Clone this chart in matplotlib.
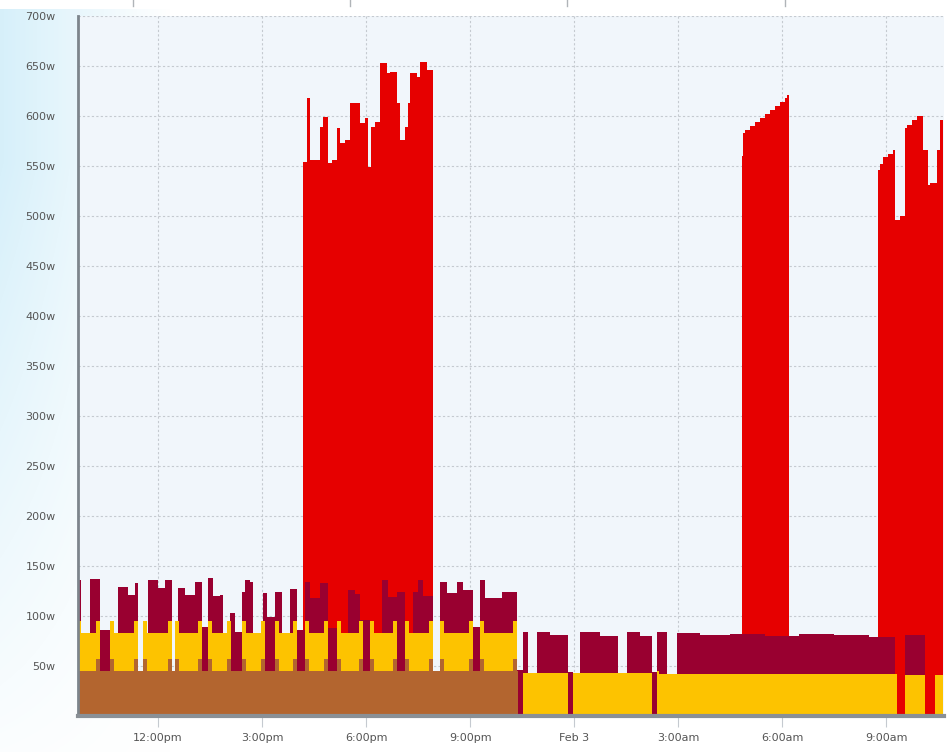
import numpy as np
import matplotlib.pyplot as plt
from matplotlib.lines import Line2D

# heures depuis minuit le 2 fev. (24 = minuit du 3 fev.)
# chaque serie = niveau du haut de la couche empilee, en escalier
brown_hours = [9.69, 10.21, 10.33, 10.62, 10.74, 11.30, 11.42, 11.57, 11.69, 12.28, 12.40,
               12.49, 12.61, 13.15, 13.27, 13.44, 13.56, 13.99, 14.11, 14.42, 14.54, 14.97,
               15.09, 15.37, 15.49, 15.89, 16.01, 16.24, 16.36, 16.78, 16.90, 17.16, 17.28,
               17.79, 17.91, 18.11, 18.23, 18.77, 18.89, 19.12, 19.24, 19.81, 19.93, 20.13,
               20.25, 20.97, 21.09, 21.29, 21.41, 22.23, 22.35, 22.38]
brown_top = [45, 57, 45, 57, 45, 57, 45, 57, 45, 57, 45,
             57, 45, 57, 45, 57, 45, 57, 45, 57, 45, 57,
             45, 57, 45, 57, 45, 57, 45, 57, 45, 57, 45,
             57, 45, 57, 45, 57, 45, 57, 45, 57, 45, 57,
             45, 57, 45, 57, 45, 57, 45, 0]

gold_hours = [9.69, 9.78, 10.21, 10.33, 10.62, 10.74, 11.30, 11.42, 11.57, 11.69, 12.28, 12.40,
              12.49, 12.61, 13.15, 13.27, 13.44, 13.56, 13.99, 14.11, 14.42, 14.54, 14.97,
              15.09, 15.37, 15.49, 15.89, 16.01, 16.24, 16.36, 16.78, 16.90, 17.16, 17.28,
              17.79, 17.91, 18.11, 18.23, 18.77, 18.89, 19.12, 19.24, 19.81, 19.93, 20.13,
              20.25, 20.97, 21.09, 21.29, 21.41, 22.23, 22.35, 22.53, 23.83, 23.97, 26.25,
              26.39, 26.45, 33.31, 33.55, 34.12, 34.41, 34.64]
gold_top = [95, 83, 95, 0, 95, 83, 95, 0, 95, 83, 95, 0,
            95, 83, 95, 0, 95, 83, 95, 0, 95, 83, 95,
            0, 95, 83, 95, 0, 95, 83, 95, 0, 95, 83,
            95, 0, 95, 83, 95, 0, 95, 83, 95, 0, 95,
            83, 95, 0, 95, 83, 95, 0, 43, 0, 43, 0,
            45, 42, 0, 41, 0, 41, 0]

maroon_hours = [9.69, 9.78, 10.04, 10.33, 10.62, 10.85, 11.13, 11.34, 11.42, 11.71, 12.00,
                12.20, 12.40, 12.58, 12.78, 13.07, 13.27, 13.44, 13.59, 13.79, 13.87, 14.08,
                14.22, 14.42, 14.51, 14.65, 14.74, 15.03, 15.14, 15.37, 15.58, 15.81, 16.01,
                16.24, 16.38, 16.67, 16.90, 17.16, 17.48, 17.68, 17.83, 18.11, 18.46, 18.63,
                18.89, 19.12, 19.36, 19.50, 19.64, 19.93, 20.13, 20.33, 20.62, 20.80, 21.09,
                21.29, 21.44, 21.92, 22.35, 22.53, 22.67, 22.93, 23.31, 23.83, 23.97, 24.17,
                24.75, 25.27, 25.53, 25.90, 26.25, 26.39, 26.68, 26.97, 27.63, 28.50, 29.50,
                30.50, 31.50, 32.50, 33.26, 33.55, 34.12]
maroon_top = [136, 0, 137, 86, 0, 129, 121, 133, 0, 136, 128,
              136, 0, 128, 121, 134, 89, 138, 120, 121, 0, 103,
              84, 124, 136, 134, 0, 123, 99, 124, 0, 127, 86,
              134, 118, 133, 88, 0, 126, 122, 96, 0, 136, 119,
              124, 0, 124, 136, 120, 0, 134, 123, 134, 126, 89,
              136, 118, 124, 46, 84, 0, 84, 81, 44, 0, 84,
              80, 0, 84, 80, 44, 84, 0, 83, 81, 82, 80,
              82, 81, 79, 0, 81, 0]

red_hours = [16.18, 16.30, 16.38, 16.67, 16.76, 16.90, 17.02, 17.16, 17.25, 17.39, 17.54,
             17.83, 17.97, 18.06, 18.14, 18.26, 18.40, 18.61, 18.69, 18.89, 18.98, 19.12,
             19.21, 19.27, 19.47, 19.56, 19.76, 19.93,
             28.84, 28.87, 28.93, 29.07, 29.22, 29.36, 29.51, 29.65, 29.80, 29.94, 30.08,
             30.14, 30.20,
             32.77, 32.82, 32.91, 33.05, 33.20, 33.26, 33.40, 33.55, 33.60, 33.75, 33.90,
             34.06, 34.21, 34.26, 34.47, 34.56, 34.64]
red_top = [554, 618, 556, 589, 599, 553, 556, 588, 573, 576, 613,
           593, 598, 549, 589, 594, 653, 643, 644, 613, 576, 589,
           613, 643, 639, 654, 646, 0,
           560, 583, 586, 590, 594, 598, 602, 606, 610, 614, 618,
           621, 0,
           546, 552, 559, 562, 566, 496, 500, 588, 591, 596, 600,
           566, 531, 533, 566, 596, 0]

tick_hours = [12, 15, 18, 21, 24, 27, 30, 33]
tick_labels = ["12:00pm", "3:00pm", "6:00pm", "9:00pm", "Feb 3", "3:00am", "6:00am", "9:00am"]
y_ticks = list(range(50, 701, 50))

fig = plt.figure(figsize=(9.51, 7.52), dpi=100)

# fond degrade bleu clair a gauche
bg = fig.add_axes([0, 0, 1, 1], zorder=-10)
bg.axis("off")
yy, xx = np.mgrid[0:752, 0:951]
f = np.clip(1 - xx / 170.0, 0, 1) * np.clip(1.25 - yy / 650.0, 0, 1)
f[yy < 9] = 0
c0 = np.array([1.0, 1.0, 1.0])
c1 = np.array([0.84, 0.94, 0.98])
img = c0 + (c1 - c0) * f[..., None]
bg.imshow(img, aspect="auto", extent=[0, 1, 0, 1])
for xp in [133, 350, 567, 785]:
    fig.add_artist(Line2D([xp / 951, xp / 951], [1, 1 - 6 / 752], color="#b0b4b8", lw=1))

ax = fig.add_axes([78 / 951, 36 / 752, 866 / 951, 700 / 752])
ax.set_facecolor("#f1f6fb")
ax.set_axisbelow(True)

ax.fill_between(red_hours, 0, red_top, step="post", color="#e60000", lw=0)
ax.fill_between(maroon_hours, 0, maroon_top, step="post", color="#990030", lw=0)
ax.fill_between(gold_hours, 0, gold_top, step="post", color="#fdc300", lw=0)
ax.fill_between(brown_hours, 0, brown_top, step="post", color="#b3652f", lw=0)

ax.set_xlim(9.69, 34.67)
ax.set_ylim(0, 700)
ax.set_xticks(tick_hours)
ax.set_xticklabels(tick_labels)
ax.set_yticks(y_ticks)
ax.set_yticklabels([f"{v}w" for v in y_ticks])

ax.grid(True, color="#c5cad0", lw=0.8, linestyle=(0, (2, 2)))
ax.tick_params(axis="x", length=8, color="#c5cad0", colors="#555555", labelsize=8, pad=4)
ax.tick_params(axis="y", length=0, colors="#555555", labelsize=8, pad=16)
for lab in ax.get_xticklabels() + ax.get_yticklabels():
    lab.set_color("#555555")

for s in ["top", "right"]:
    ax.spines[s].set_visible(False)
ax.spines["left"].set_color("#7d858c")
ax.spines["left"].set_linewidth(2)
ax.spines["bottom"].set_color("#8a9096")
ax.spines["bottom"].set_linewidth(3)

fig.savefig("out.png", dpi=100)
